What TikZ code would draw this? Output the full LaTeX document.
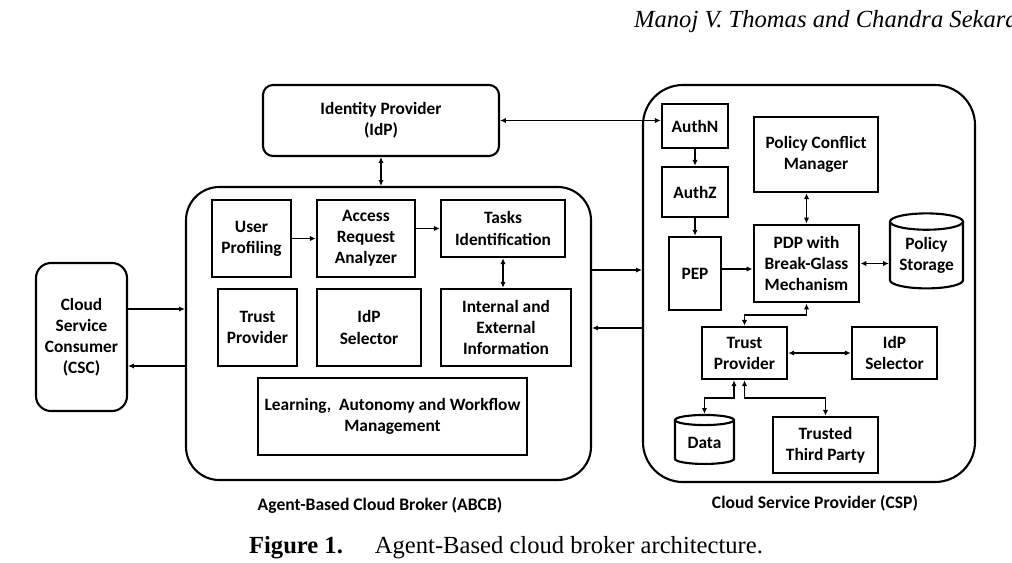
\documentclass[tikz,border=0pt]{standalone}
\usepackage{fontspec}
\setmainfont{Liberation Serif}
\newfontfamily\boxfont{Carlito}
\usetikzlibrary{arrows.meta,shapes.geometric}

\begin{document}
\begin{tikzpicture}[x=0.3mm, y=-0.3mm,
	box/.style = {draw, line width=2.1pt, align=center, inner sep=0pt, font=\boxfont\bfseries\fontsize{14.8}{18}\selectfont},
	rbox/.style = {box, rounded corners=3mm, line width=1.8pt},
	cyl/.style = {box, shape=cylinder, shape border rotate=90, aspect=0.3, line width=1.8pt},
	lbl/.style = {font=\boxfont\bfseries\fontsize{15}{18}\selectfont},
	link/.style = {line width=1.4pt, -{Latex[length=5pt,width=4.5pt]}},
	both/.style = {line width=1.4pt, {Latex[length=5pt,width=4.5pt]}-{Latex[length=5pt,width=4.5pt]}}]

	\useasboundingbox (0,0) rectangle (1012,562);
	\clip (0,0) rectangle (1012,562);

	\node[anchor=west, font=\itshape\fontsize{21}{24}\selectfont] (head) at (630,22) {Manoj V. Thomas and Chandra Sekaran};

	\node[rbox, minimum width=70.8mm, minimum height=21.3mm] (idp) at (381,120.5) {Identity Provider\\(IdP)};
	\node[rbox, rounded corners=10mm, minimum width=121.5mm, minimum height=87.9mm] (abcb) at (388.5,333.5) {};
	\node[rbox, rounded corners=12mm, minimum width=99.6mm, minimum height=119.1mm] (csp) at (809,283.5) {};
	\node[rbox, rounded corners=4.5mm, minimum width=27.3mm, minimum height=44.4mm] (csc) at (81.5,337) {Cloud\\Service\\Consumer\\(CSC)};

	\node[box, minimum width=23.7mm, minimum height=23.1mm] (up) at (251.5,238.5) {User\\Profiling};
	\node[box, minimum width=29.4mm, minimum height=23.1mm] (ara) at (366,238.5) {Access\\Request\\Analyzer};
	\node[box, minimum width=37.2mm, minimum height=17.1mm] (ti) at (503,228.5) {Tasks\\Identification};
	\node[box, minimum width=23.7mm, minimum height=23.1mm] (tp1) at (257.5,327.5) {Trust\\Provider};
	\node[box, minimum width=31.2mm, minimum height=23.1mm] (idps1) at (369,327.5) {IdP\\Selector};
	\node[box, minimum width=39mm, minimum height=23.1mm] (iei) at (506,327.5) {Internal and\\External\\Information};
	\node[box, minimum width=80.7mm, minimum height=23.1mm] (lawm) at (392.5,416.5) {Learning,\ \ Autonomy and Workflow\\Management};

	\node[box, minimum width=19.8mm, minimum height=13.2mm] (authn) at (695,126) {AuthN};
	\node[box, minimum width=19.8mm, minimum height=15mm] (authz) at (695,192) {AuthZ};
	\node[box, minimum width=15.6mm, minimum height=21.9mm] (pep) at (695,273.5) {PEP};
	\node[box, minimum width=37.2mm, minimum height=22.5mm] (pcm) at (816,154.5) {Policy Conflict\\Manager};
	\node[box, line width=2.5pt, minimum width=31.5mm, minimum height=23.1mm] (pdp) at (806.5,263.5) {PDP with\\Break-Glass\\Mechanism};
	\node[cyl, minimum width=21.9mm, minimum height=22.5mm] (ps) at (926.5,255.5) {Policy\\Storage};
	\node[box, minimum width=25.5mm, minimum height=15.6mm] (tp2) at (744.5,353) {Trust\\Provider};
	\node[box, minimum width=25.5mm, minimum height=15.6mm] (idps2) at (894.5,353) {IdP\\Selector};
	\node[cyl, minimum width=17.7mm, minimum height=14.7mm] (data) at (704.5,442.5) {Data};
	\node[box, minimum width=31.5mm, minimum height=16.8mm] (ttp) at (825.5,445) {Trusted\\Third Party};

	\node[lbl] (abcbl) at (380,505) {Agent-Based Cloud Broker (ABCB)};
	\node[lbl] (cspl) at (815,503) {Cloud Service Provider (CSP)};
	\node[font=\fontsize{21}{24}\selectfont] (cap) at (506,548) {\textbf{Figure 1.}\hspace{1.3em}Agent-Based cloud broker architecture.};

	\draw[both] (idp.south) -- (idp.south |- abcb.north);
	\draw[both] (idp.east) -- (idp.east -| authn.west);
	\draw[link] (up.east) -- (ara.west);
	\draw[link] (ara.east |- ti.west) -- (ti.west);
	\draw[both] (ti.south) -- (ti.south |- iei.north);
	\draw[link] (csc.east |- 0,309) -- (abcb.west |- 0,309);
	\draw[link] (abcb.west |- 0,366) -- (csc.east |- 0,366);
	\draw[link] (abcb.east |- 0,270) -- (csp.west |- 0,270);
	\draw[link, line width=2.4pt] (csp.west |- 0,328) -- (abcb.east |- 0,328);

	\draw[link] (authn.south) -- (authz.north);
	\draw[link] (authz.south) -- (pep.north);
	\draw[link] (pep.east |- 0,269) -- (pdp.west |- 0,269);
	\draw[both] (pdp.north |- pcm.south) -- (pdp.north);
	\draw[both] (pdp.east) -- (pdp.east -| ps.west);
	\draw[both] (pdp.south) -- (pdp.south |- 0,315) -| (tp2.north);
	\draw[both] (tp2.east) -- (idps2.west);
	\draw[both] ([xshift=-3.15mm]tp2.south) |- (data.north |- 0,398) -- (data.north);
	\draw[both] (tp2.south) |- (ttp.north |- 0,398) -- (ttp.north);
\end{tikzpicture}
\end{document}
